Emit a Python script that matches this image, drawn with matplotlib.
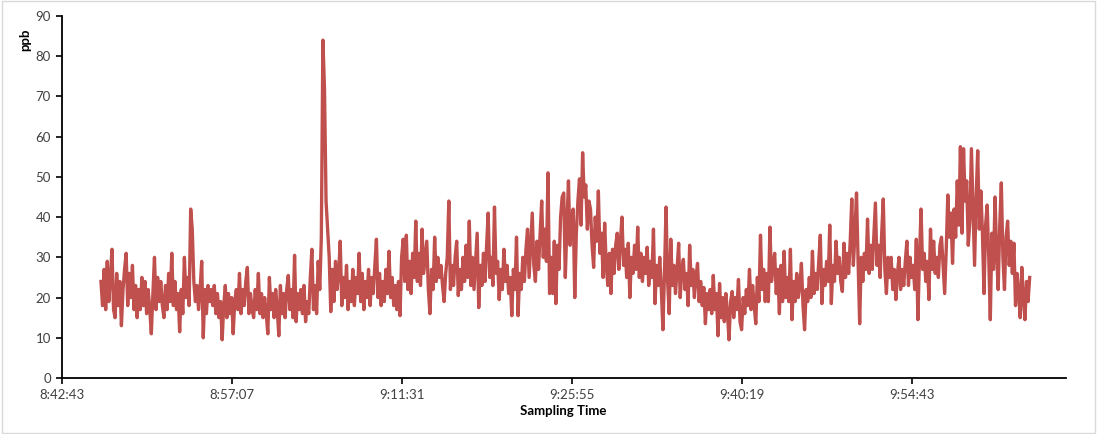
import matplotlib
matplotlib.use('Agg')
import matplotlib.pyplot as plt
import matplotlib.patches as patches
import numpy as np

# ozone readings (ppb), one every 8 s starting 8:46:01
start_sec = 8 * 3600 + 46 * 60 + 1
step_sec = 8

ppb = [
    # 8:46 - 8:56
    24, 18, 27, 17, 29, 19, 25, 32, 17, 15,
    26, 18, 24, 13, 22, 27, 31, 18, 26, 20,
    28, 17, 23, 15, 22, 17, 25, 18, 24, 16,
    22, 17, 11, 21, 30, 17, 25, 19, 24, 18,
    15, 23, 17, 26, 19, 31, 18, 24, 17, 21,
    11.5, 22, 16, 30, 20, 25, 18, 42, 37, 24,
    19, 23, 17, 22, 29, 10, 22, 16, 23, 19,
    22, 18, 23,
    # 8:56 - 9:05
    16, 21, 15, 19, 9.5, 18, 23,
    15, 21, 16, 20, 11, 19, 22, 17, 26, 16,
    22, 18, 24, 27.5, 16, 21, 17, 15, 22, 17,
    26, 16, 21, 15, 20, 16, 11, 25, 17, 21,
    15, 22, 17, 10.5, 23, 16, 21, 15, 22, 25.5,
    17, 22, 15, 30.5, 14, 21, 17, 22, 16, 23,
    14, 19, 16, 25, 32, 17, 23, 16, 29, 22,
    35,
    # spike
    84, 72, 44, 37, 30, 16.5,
    # 9:05 - 9:14
    27, 19, 29,
    22, 26, 34, 18, 25, 20, 28, 17, 24, 19,
    27, 18, 25, 21, 31, 19, 26, 17, 24, 20,
    27, 18, 25, 21, 28, 34.5, 20, 26, 18, 24,
    19, 27, 21, 31.5, 20, 25, 18, 23, 17, 24,
    15.5, 30, 34.5, 24, 35.5, 22, 29, 21, 31, 25,
    39, 24, 31, 23, 37, 26, 30, 34, 22, 16,
    27, 22, 35, 24, 30, 25,
    # 9:14 - 9:24
    28, 23, 19, 26,
    30, 44, 22, 28, 23, 30, 34, 20.5, 27, 22,
    30, 24, 33, 25, 39, 23, 30, 22, 29, 36,
    17.5, 28, 23, 31, 24, 33, 41, 25, 30, 23,
    42.5, 26, 29, 19.5, 27, 22, 32, 24, 28, 21,
    25, 15.5, 27, 22, 35, 15.5, 26, 22, 30, 24,
    32, 37, 25, 33, 41, 28, 24, 34, 27, 36,
    44, 30, 37, 29, 51, 21,
    # 9:24 - 9:33
    30, 21, 34, 18.5,
    33, 27, 40, 45, 46, 25, 38, 49, 33, 40,
    42, 20, 36, 44, 49.5, 38, 56, 45, 48, 37,
    44, 42, 33, 27.5, 40, 34, 46.5, 31, 36, 25,
    38.5, 28, 23, 31, 21, 32, 26, 33, 36, 27,
    34, 40, 28, 32, 25, 33.5, 20, 30, 26, 33,
    27, 37.5, 25, 31, 24, 30, 26, 32.5, 23, 29,
    25, 37, 18.5, 28, 23, 30, 22, 12, 26,
    # 9:33 - 9:43
    42.5, 24, 16, 34.5, 23, 28, 21, 27, 33.5, 20, 27,
    29.5, 22, 26, 18, 33, 23, 27, 20, 25, 28.5,
    19, 24, 18, 22.5, 13.5, 21, 17, 22, 16, 25.5,
    17, 21, 10.5, 23.5, 15, 20, 14, 21, 16, 9.5,
    19, 21.5, 15, 20, 17, 24.5, 14, 12, 20, 16,
    22, 18, 27, 17, 23, 18, 13.5, 25, 19, 35.5,
    22, 27, 19, 26, 19, 37.5, 24, 28, 31, 21,
    27, 16, 28, 19,
    # 9:43 - 9:53
    31.5, 20, 25, 19, 32, 14.5,
    24, 19, 26, 20, 23, 28.5, 18, 12, 22, 19,
    25, 20, 31.5, 21, 26, 22, 29, 35.5, 18.5, 27,
    23, 29, 24, 38, 18.5, 28, 24, 34, 26, 30,
    24, 21.5, 33.5, 25, 31, 26, 34, 44.5, 28, 36,
    46, 29, 13.5, 30, 24, 31, 27, 39.5, 26, 33,
    27, 35, 43.5, 28, 33, 25, 36, 44.5, 27, 21,
    30, 25, 30, 22, 27, 19.5, 26, 30, 22,
    # 9:53 - 10:04
    27, 23, 29, 34, 23, 30, 25, 28, 22, 34.5, 14.5,
    30, 42, 27, 31, 24, 29, 19.5, 37, 27, 34,
    26, 30, 25, 33, 35, 28, 21, 32, 45.5, 35,
    41, 28.5, 42, 35, 49, 38, 57.5, 36, 57, 44,
    49, 33, 39, 57, 42, 28, 45, 56.5, 37, 46.5,
    36, 21, 38, 43, 30, 14.5, 36, 27, 45, 31,
    22, 38, 48.5, 30, 22, 35, 39, 28, 34, 26,
    33.5, 18, 26, 21, 15, 27.5, 20, 14.5, 24, 19,
    25,
]

tick_labels = ['8:42:43', '8:57:07', '9:11:31', '9:25:55', '9:40:19', '9:54:43']
tick_secs = [31363 + 864 * k for k in range(6)]

t = start_sec + step_sec * np.arange(len(ppb))

plt.rcParams['font.family'] = ['Lato', 'DejaVu Sans']

fig = plt.figure(figsize=(10.97, 4.34), dpi=100)
ax = fig.add_axes([62 / 1097, 56 / 434, (1066 - 62) / 1097, (378 - 16) / 434])

ax.plot(t, ppb, color='#C0504D', lw=2.4, solid_joinstyle='round')

ax.set_xlim(31363, 31363 + (1066 - 62) / 170 * 864)
ax.set_ylim(0, 90)
ax.set_yticks(range(0, 91, 10))
ax.set_xticks(tick_secs)
ax.set_xticklabels(tick_labels)

for s in ['top', 'right']:
    ax.spines[s].set_visible(False)
for s in ['left', 'bottom']:
    ax.spines[s].set_linewidth(1.3)
    ax.spines[s].set_color('black')

ax.tick_params(direction='out', length=4, width=1.2, labelsize=9.5,
               labelcolor='#404040', pad=4)

# axis titles
fig.text(25 / 1097, 1 - 40 / 434, 'ppb', rotation=90, fontsize=9.5,
         fontweight='bold', ha='center', va='center')
fig.text(563 / 1097, 1 - 411 / 434, 'Sampling Time', fontsize=9.5,
         fontweight='bold', ha='center', va='center')

# chart area border
fig.patches.append(patches.Rectangle((0.002, 0.003), 0.996, 0.994,
                                     transform=fig.transFigure, fill=False,
                                     edgecolor='#d9d9d9', lw=1.0))

fig.savefig('out.png', dpi=100)
